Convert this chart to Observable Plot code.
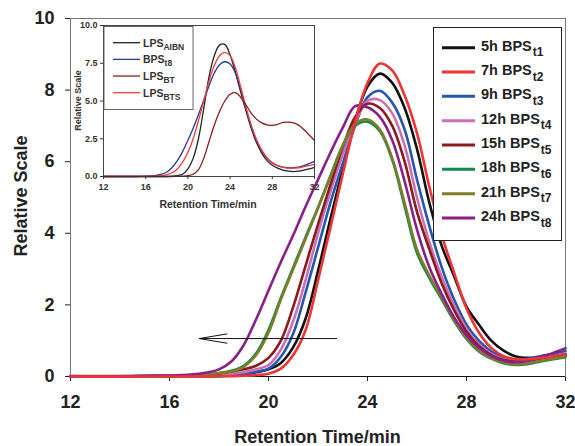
<!DOCTYPE html>
<html><head><meta charset="utf-8">
<script src="https://cdn.jsdelivr.net/npm/d3@7"></script>
<script src="https://cdn.jsdelivr.net/npm/@observablehq/plot@0.6"></script>
<style>
body{margin:0;background:#fff;}
#wrap{position:relative;width:575px;height:446px;overflow:hidden;}
#wrap svg{position:absolute;}
</style></head><body><div id="wrap"></div>
<script>
// ---- shared retention-time grid (min) ----
const times = [12,13,14,15,16,16.5,17,17.5,18,18.5,19,19.5,20,20.5,21,21.5,22,22.5,23,23.5,24,24.5,25,25.5,26,26.5,27,27.5,28,28.5,29,29.5,30,30.5,31,31.5,32];

// ---- main chart series ----
const mainLabels = ["5h BPS","7h BPS","9h BPS","12h BPS","15h BPS","18h BPS","21h BPS","24h BPS"];
const mainSubs = ["t1","t2","t3","t4","t5","t6","t7","t8"];
const mainColors = ["#111111","#ee3434","#2457b0","#cc6fb8","#8b1a1a","#128a4a","#7d7d2b","#8a1f8a"];
const t1 = [0,0,0,0,0,0.005,0.01,0.01,0.01,0.03,0.06,0.12,0.2,0.38,0.82,1.62,2.95,4.4,5.8,7.15,8.1,8.46,8.2,7.5,6.35,4.85,3.65,2.8,1.95,1.45,1.0,0.72,0.56,0.52,0.54,0.57,0.6];
const t2 = [0,0,0,0,0,0,0,0,0.005,0.01,0.02,0.04,0.08,0.22,0.6,1.3,2.68,4.15,5.65,7.1,8.2,8.74,8.55,7.85,6.8,5.3,3.95,2.9,1.9,1.23,0.8,0.57,0.48,0.48,0.52,0.56,0.62];
const t3 = [0,0,0,0,0,0.005,0.01,0.02,0.03,0.05,0.08,0.13,0.22,0.55,1.2,2.35,3.6,4.85,5.95,7.0,7.8,7.98,7.65,6.9,5.5,4.2,3.05,2.15,1.45,1.0,0.7,0.53,0.47,0.5,0.57,0.63,0.71];
const t4 = [0,0,0,0,0.01,0.01,0.02,0.03,0.05,0.08,0.12,0.2,0.32,0.75,1.55,2.7,4.0,5.15,6.2,7.1,7.7,7.72,7.35,6.45,5.0,3.75,2.78,1.98,1.33,0.9,0.63,0.48,0.44,0.46,0.52,0.57,0.65];
const t5 = [0,0,0,0.01,0.01,0.02,0.02,0.04,0.08,0.14,0.2,0.3,0.52,1.0,1.95,3.1,4.25,5.35,6.4,7.25,7.62,7.5,7.0,6.0,4.6,3.55,2.6,1.85,1.25,0.85,0.6,0.46,0.42,0.44,0.5,0.55,0.62];
const t6 = [0,0,0,0.01,0.01,0.02,0.03,0.06,0.1,0.16,0.3,0.65,1.3,2.2,3.05,3.9,4.72,5.6,6.45,7.0,7.12,6.85,6.05,4.75,3.45,2.75,2.15,1.55,1.05,0.7,0.5,0.37,0.32,0.35,0.42,0.48,0.54];
const t7 = [0,0,0,0.01,0.01,0.02,0.03,0.05,0.09,0.14,0.27,0.6,1.22,2.15,3.0,3.85,4.7,5.58,6.45,7.05,7.18,6.9,6.1,4.85,3.55,2.82,2.2,1.58,1.07,0.72,0.51,0.39,0.34,0.37,0.44,0.5,0.56];
const t8 = [0.01,0.01,0.01,0.02,0.03,0.04,0.06,0.11,0.2,0.42,0.88,1.6,2.4,3.2,3.95,4.75,5.5,6.25,6.95,7.55,7.52,7.25,6.6,5.45,4.1,3.05,2.3,1.65,1.15,0.8,0.57,0.44,0.4,0.44,0.55,0.66,0.79];
const mainSeries = [t1,t2,t3,t4,t5,t6,t7,t8];
const drawOrder = [0,2,3,4,5,6,7,1];

// ---- arrow ----
const arrowFrom = [22.75];
const arrowTo = [17.2];
const arrowLevel = [1.06];

// ---- inset series ----
const insetLabels = ["LPS","BPS","LPS","LPS"];
const insetSubs = ["AIBN","t8","BT","BTS"];
const insetColors = ["#222222","#2b3990","#8b1c1c","#f03c3c"];
const lpsAIBN = [0,0,0,0,0,0,0,0,0,0.02,0.06,0.15,0.5,1.2,2.5,4.5,6.6,8.0,8.7,8.75,8.05,6.9,5.6,4.35,3.2,2.25,1.55,1.05,0.75,0.55,0.42,0.35,0.32,0.35,0.42,0.5,0.6];
const bpsT8 = [0,0,0,0,0.02,0.04,0.08,0.15,0.3,0.6,1.05,1.65,2.4,3.2,4.1,5.05,6.0,6.85,7.4,7.6,7.45,6.85,5.75,4.5,3.35,2.4,1.7,1.2,0.9,0.72,0.62,0.58,0.58,0.62,0.72,0.85,1.0];
const lpsBT = [0,0,0,0,0,0,0,0,0,0,0.01,0.02,0.05,0.15,0.45,1.2,2.3,3.4,4.3,5.0,5.45,5.55,5.25,4.75,4.2,3.8,3.55,3.42,3.38,3.45,3.58,3.6,3.55,3.4,3.1,2.75,2.38];
const lpsBTS = [0,0,0,0,0.01,0.02,0.03,0.06,0.12,0.25,0.5,0.95,1.6,2.5,3.7,5.0,6.3,7.35,8.0,8.22,8.0,7.2,5.95,4.6,3.4,2.45,1.75,1.25,0.92,0.72,0.6,0.55,0.55,0.58,0.65,0.72,0.8];
const insetSeries = [lpsAIBN,bpsT8,lpsBT,lpsBTS];

// ---- ticks ----
const xTicks = [12,16,20,24,28,32];
const yTicks = [0,2,4,6,8,10];
const insetYTicks = [0,2.5,5,7.5,10];

const FONT = "'Liberation Sans', Arial, Helvetica, sans-serif";
const toRows = (arr) => times.map((t,i)=>({t, v: arr[i]}));

const main = Plot.plot({
  width: 575, height: 446,
  marginLeft: 70, marginRight: 10, marginTop: 18, marginBottom: 70,
  style: {fontFamily: FONT, fontSize: "18px", fontWeight: "bold", color: "#222", background: "transparent", overflow: "visible"},
  x: {domain: [12,32], ticks: xTicks, tickSize: 5, tickPadding: 14, label: null},
  y: {domain: [0,10], ticks: yTicks, tickSize: 5, tickPadding: 11, label: null},
  marks: [
    Plot.frame({stroke: "#777"}),
    Plot.ruleY([0], {stroke: "#111"}),
    ...drawOrder.map(k => Plot.line(toRows(mainSeries[k]), {x: "t", y: "v", stroke: mainColors[k], strokeWidth: 2.6, curve: "catmull-rom"})),
    Plot.arrow(arrowFrom.map((a,i)=>({x1: a, x2: arrowTo[i], y: arrowLevel[i]})), {x1: "x1", x2: "x2", y1: "y", y2: "y", stroke: "#111", strokeWidth: 1, headLength: 42, headAngle: 19})
  ]
});
main.style.left = "0px"; main.style.top = "0px";

const ms = d3.select(main);
ms.append("text").attr("x", 317.5).attr("y", 443).attr("text-anchor", "middle")
  .attr("font-size", 18).attr("font-weight", "bold").attr("fill", "#222").attr("font-family", FONT)
  .text("Retention Time/min");
ms.append("text").attr("transform", "translate(27,196) rotate(-90)").attr("text-anchor", "middle")
  .attr("font-size", 18).attr("font-weight", "bold").attr("fill", "#222").attr("font-family", FONT)
  .text("Relative Scale");

// main legend
const lg = ms.append("g");
lg.append("rect").attr("x", 433.5).attr("y", 27.5).attr("width", 128).attr("height", 213)
  .attr("fill", "#fff").attr("stroke", "#222").attr("stroke-width", 1);
mainLabels.forEach((lab, i) => {
  const y = 47.7 + i * 24.33;
  lg.append("line").attr("x1", 442).attr("x2", 475).attr("y1", y).attr("y2", y)
    .attr("stroke", mainColors[i]).attr("stroke-width", 3);
  const tx = lg.append("text").attr("x", 481).attr("y", y + 3).attr("font-size", 14.5)
    .attr("text-anchor", "start")
    .attr("font-weight", "bold").attr("fill", "#222").attr("font-family", FONT);
  tx.append("tspan").text(lab);
  tx.append("tspan").attr("dy", 5.5).attr("dx", 1).attr("font-size", 12).text(mainSubs[i]);
});

document.getElementById("wrap").appendChild(main);

// ---- inset ----
const inset = Plot.plot({
  width: 250, height: 200,
  marginLeft: 31, marginRight: 8, marginTop: 10, marginBottom: 39,
  style: {fontFamily: FONT, fontSize: "9px", fontWeight: "bold", color: "#333", background: "transparent", overflow: "visible"},
  x: {domain: [12,32], ticks: xTicks, tickSize: 3, tickPadding: 4, label: null},
  y: {domain: [0,10], ticks: insetYTicks, tickSize: 3, tickPadding: 3, tickFormat: d3.format(".1f"), label: null},
  marks: [
    Plot.frame({fill: "#fff", stroke: "none"}),
    ...[0,1,3,2].map(k => Plot.line(toRows(insetSeries[k]), {x: "t", y: "v", stroke: insetColors[k], strokeWidth: 1.3, curve: "catmull-rom"})),
    Plot.frame({stroke: "#333", strokeWidth: 0.9})
  ]
});
inset.style.left = "72px"; inset.style.top = "15px";
const is = d3.select(inset);
is.append("text").attr("x", 136).attr("y", 193).attr("text-anchor", "middle")
  .attr("font-size", 10.5).attr("font-weight", "bold").attr("fill", "#333").attr("font-family", FONT)
  .text("Retention Time/min");
is.append("text").attr("transform", "translate(8.5,85.5) rotate(-90)").attr("text-anchor", "middle")
  .attr("font-size", 9).attr("font-weight", "bold").attr("fill", "#333").attr("font-family", FONT)
  .text("Relative Scale");
const ilg = is.append("g");
ilg.append("rect").attr("x", 32).attr("y", 11.5).attr("width", 89).attr("height", 83)
  .attr("fill", "#fff").attr("stroke", "#555").attr("stroke-width", 0.9);
insetLabels.forEach((lab, i) => {
  const y = 27.7 + i * 16.67;
  ilg.append("line").attr("x1", 41).attr("x2", 68).attr("y1", y).attr("y2", y)
    .attr("stroke", insetColors[i]).attr("stroke-width", 1.3);
  const tx = ilg.append("text").attr("x", 71).attr("y", y + 4).attr("font-size", 10.5)
    .attr("text-anchor", "start")
    .attr("font-weight", "bold").attr("fill", "#333").attr("font-family", FONT);
  tx.append("tspan").text(lab);
  tx.append("tspan").attr("dy", 3).attr("font-size", 8.5).text(insetSubs[i]);
});
document.getElementById("wrap").appendChild(inset);
</script></body></html>
